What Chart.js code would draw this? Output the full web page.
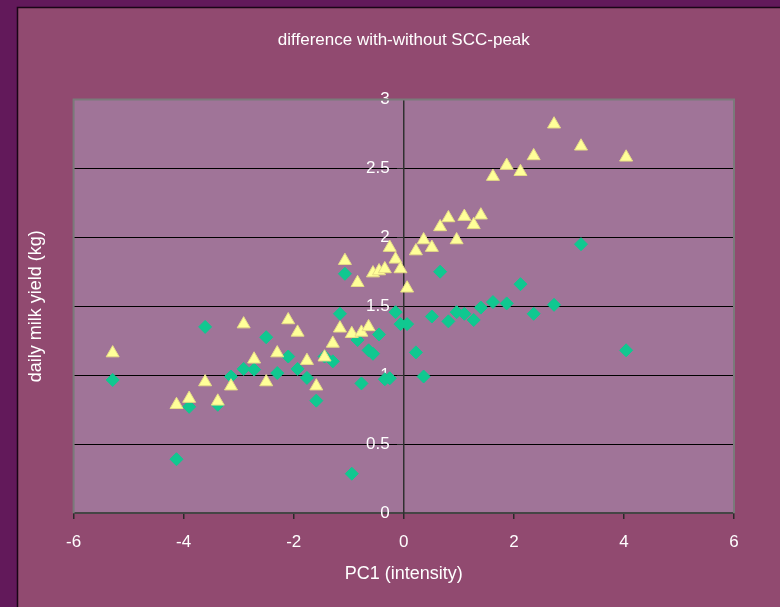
<!DOCTYPE html>
<html>
<head>
<meta charset="utf-8">
<script src="https://cdn.jsdelivr.net/npm/chart.js@4.4.1/dist/chart.umd.min.js"></script>
<style>
    html, body { margin: 0; padding: 0; background: #62195a; }
    canvas { display: block; }
</style>
</head>
<body>
<canvas id="scc" width="780" height="607"></canvas>
<script>
// PC1 (intensity) values, one per animal group
const pc1 = [-5.29, -4.13, -3.90, -3.61, -3.38, -3.14, -2.91, -2.72, -2.50, -2.30,
    -2.10, -1.93, -1.76, -1.59, -1.44, -1.29, -1.16, -1.07, -0.945, -0.84,
    -0.77, -0.64, -0.56, -0.45, -0.345, -0.255, -0.15, -0.06, 0.06, 0.22,
    0.36, 0.51, 0.66, 0.81, 0.96, 1.10, 1.27, 1.40, 1.62, 1.87,
    2.12, 2.36, 2.73, 3.22, 4.04];

// yellow triangles
const seriesA = [1.16, 0.785, 0.83, 0.95, 0.81, 0.92, 1.37, 1.115, 0.95, 1.16,
    1.40, 1.31, 1.105, 0.92, 1.13, 1.23, 1.34, 1.83, 1.30, 1.67,
    1.31, 1.35, 1.74, 1.755, 1.77, 1.925, 1.84, 1.77, 1.63, 1.90,
    1.98, 1.925, 2.075, 2.14, 1.98, 2.15, 2.09, 2.16, 2.44, 2.52,
    2.475, 2.59, 2.82, 2.66, 2.58];

// green diamonds
const seriesB = [0.965, 0.39, 0.77, 1.35, 0.785, 0.99, 1.045, 1.04, 1.275, 1.015,
    1.135, 1.045, 0.98, 0.815, 1.135, 1.10, 1.445, 1.735, 0.285, 1.255,
    0.94, 1.18, 1.155, 1.295, 0.97, 0.977, 1.457, 1.37, 1.37, 1.165,
    0.99, 1.425, 1.75, 1.39, 1.457, 1.445, 1.40, 1.49, 1.53, 1.52,
    1.66, 1.445, 1.51, 1.95, 1.18];

const xTicks = [-6, -4, -2, 0, 2, 4, 6];
const yTicks = [0, 0.5, 1, 1.5, 2, 2.5, 3];

const FONT = "'Liberation Sans', Arial, sans-serif";

// panel, frame and plot background
const backdrop = {
    id: 'backdrop',
    beforeDraw(chart) {
        const ctx = chart.ctx;
        const a = chart.chartArea;
        ctx.save();
        ctx.fillStyle = '#62195a';
        ctx.fillRect(0, 0, chart.width, chart.height);
        ctx.fillStyle = '#914a70';
        ctx.fillRect(18, 8, chart.width, chart.height);
        ctx.strokeStyle = '#1a0516';
        ctx.lineWidth = 1.5;
        ctx.beginPath();
        ctx.moveTo(17.5, chart.height);
        ctx.lineTo(17.5, 7.5);
        ctx.lineTo(chart.width, 7.5);
        ctx.stroke();
        ctx.fillStyle = '#a07498';
        ctx.fillRect(a.left, a.top, a.width, a.height);
        ctx.restore();
    },
    beforeDatasetsDraw(chart) {
        const ctx = chart.ctx;
        const a = chart.chartArea;
        ctx.save();
        ctx.strokeStyle = '#7a7a7a';
        ctx.lineWidth = 2;
        ctx.beginPath();
        ctx.moveTo(a.left, a.bottom);
        ctx.lineTo(a.left, a.top);
        ctx.lineTo(a.right, a.top);
        ctx.lineTo(a.right, a.bottom);
        ctx.stroke();
        ctx.restore();
    }
};

function createChart(){
    const canvas = document.querySelector('#scc');
    let options = {
        type: 'scatter',
        data: {
            datasets: [{
                label: 'triangles',
                data: pc1.map((x, i) => ({x: x, y: seriesA[i]})),
                pointStyle: 'triangle',
                pointRadius: 7.5,
                backgroundColor: '#ffff99',
                borderColor: '#e6dc86',
                borderWidth: 1,
            }, {
                label: 'diamonds',
                data: pc1.map((x, i) => ({x: x, y: seriesB[i]})),
                pointStyle: 'rectRot',
                pointRadius: 6.5,
                backgroundColor: '#10c890',
                borderColor: '#10c890',
                borderWidth: 1,
            }]
        },
        options: {
            responsive: false,
            animation: false,
            layout: {
                padding: {left: 0, right: 46, top: 0, bottom: 0}
            },
            scales: {
                x: {
                    type: 'linear',
                    position: 'bottom',
                    min: -6,
                    max: 6,
                    afterBuildTicks: (scale) => { scale.ticks = xTicks.map(v => ({value: v})); },
                    grid: {
                        drawOnChartArea: false,
                        tickLength: 6,
                        tickColor: '#2a2a2a',
                        lineWidth: 1.5,
                    },
                    border: {color: '#454545', width: 2},
                    ticks: {color: '#ffffff', padding: 13, font: {family: FONT, size: 17}},
                    title: {
                        display: true,
                        text: 'PC1 (intensity)',
                        color: '#ffffff',
                        font: {family: FONT, size: 18},
                        padding: {top: -2, bottom: 22},
                    },
                },
                y: {
                    type: 'linear',
                    position: {x: 0},
                    min: 0,
                    max: 3,
                    afterBuildTicks: (scale) => { scale.ticks = yTicks.map(v => ({value: v})); },
                    grid: {
                        color: (c) => c.tick && c.tick.value === 3 ? '#7a7a7a' : '#000000',
                        lineWidth: 1,
                        tickLength: 6,
                        tickColor: '#2a2a2a',
                    },
                    border: {color: '#303030', width: 1.5},
                    ticks: {
                        color: '#ffffff',
                        font: {family: FONT, size: 17},
                        // centred axis: labels sit right against the line, so pad with spaces
                        callback: (v) => String(v) + '   ',
                    },
                },
                yTitle: {
                    type: 'linear',
                    position: 'left',
                    display: true,
                    grid: {display: false, drawTicks: false},
                    border: {display: false},
                    ticks: {display: false},
                    title: {
                        display: true,
                        text: 'daily milk yield (kg)',
                        color: '#ffffff',
                        font: {family: FONT, size: 18},
                        padding: {top: 25, bottom: 27},
                    },
                },
            },
            plugins: {
                title: {
                    display: true,
                    fullSize: false,
                    text: 'difference with-without SCC-peak',
                    color: '#ffffff',
                    font: {family: FONT, size: 17, weight: 'normal'},
                    padding: {top: 30, bottom: 49},
                },
                legend: {display: false},
                tooltip: {enabled: false},
            },
        },
        plugins: [backdrop],
    };
    const chart = new Chart(canvas.getContext("2d"), options);
}

createChart();
</script>
</body>
</html>
